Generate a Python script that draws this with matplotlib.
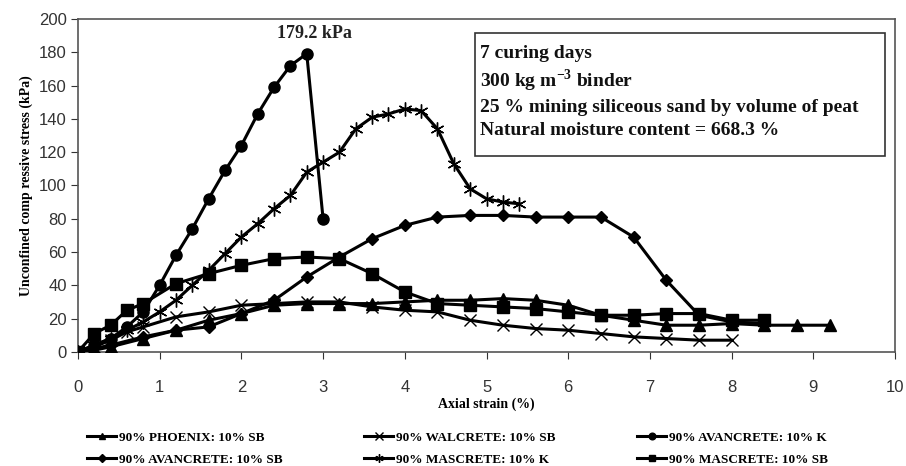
import matplotlib
matplotlib.use("Agg")
import matplotlib.pyplot as plt
from matplotlib.patches import Rectangle

# ---- data ----
phoenix_x = [0, 0.2, 0.4, 0.8, 1.2, 1.6, 2.0, 2.4, 2.8, 3.2, 3.6, 4.0, 4.4, 4.8, 5.2, 5.6, 6.0, 6.4, 6.8, 7.2, 7.6, 8.0, 8.4, 8.8, 9.2]
phoenix_y = [0, 1, 3, 8, 13, 19, 23, 28, 29, 29, 29, 30, 31, 31, 32, 31, 28, 22, 19, 16, 16, 17, 16, 16, 16]

walcrete_x = [0, 0.2, 0.4, 0.6, 0.8, 1.2, 1.6, 2.0, 2.4, 2.8, 3.2, 3.6, 4.0, 4.4, 4.8, 5.2, 5.6, 6.0, 6.4, 6.8, 7.2, 7.6, 8.0]
walcrete_y = [0, 3, 7, 12, 15, 21, 24, 28, 29, 30, 30, 27, 25, 24, 19, 16, 14, 13, 11, 9, 8, 7, 7]

avan_k_x = [0, 0.2, 0.4, 0.6, 0.8, 1.0, 1.2, 1.4, 1.6, 1.8, 2.0, 2.2, 2.4, 2.6, 2.8, 3.0]
avan_k_y = [0, 4, 8, 15, 24, 40, 58, 74, 92, 109, 124, 143, 159, 172, 179.2, 80]

avan_sb_x = [0, 0.4, 0.8, 1.2, 1.6, 2.0, 2.4, 2.8, 3.2, 3.6, 4.0, 4.4, 4.8, 5.2, 5.6, 6.0, 6.4, 6.8, 7.2, 7.6, 8.0, 8.4]
avan_sb_y = [0, 4, 9, 13, 15, 23, 31, 45, 57, 68, 76, 81, 82, 82, 81, 81, 81, 69, 43, 22, 18, 17]

mas_k_x = [0, 0.2, 0.4, 0.6, 0.8, 1.0, 1.2, 1.4, 1.6, 1.8, 2.0, 2.2, 2.4, 2.6, 2.8, 3.0, 3.2, 3.4, 3.6, 3.8, 4.0, 4.2, 4.4, 4.6, 4.8, 5.0, 5.2, 5.4]
mas_k_y = [0, 4, 8, 13, 18, 24, 31, 40, 49, 59, 69, 77, 86, 94, 108, 114, 120, 134, 141, 143, 146, 145, 134, 113, 98, 92, 90, 89]

mas_sb_x = [0, 0.2, 0.4, 0.6, 0.8, 1.2, 1.6, 2.0, 2.4, 2.8, 3.2, 3.6, 4.0, 4.4, 4.8, 5.2, 5.6, 6.0, 6.4, 6.8, 7.2, 7.6, 8.0, 8.4]
mas_sb_y = [0, 11, 16, 25, 29, 41, 47, 52, 56, 57, 56, 47, 36, 29, 28, 27, 26, 24, 22, 22, 23, 23, 19, 19]

labels = ["90% PHOENIX: 10% SB", "90% WALCRETE: 10% SB", "90% AVANCRETE: 10% K",
          "90% AVANCRETE: 10% SB", "90% MASCRETE: 10% K", "90% MASCRETE: 10% SB"]

x_ticks = list(range(0, 11))
y_ticks = list(range(0, 201, 20))

info_lines = ["7 curing days",
              "300 kg m$^{\\mathregular{-3}}$ binder",
              "25 % mining siliceous sand by volume of peat",
              "Natural moisture content = 668.3 %"]
peak_label = "179.2 kPa"

# ---- plot ----
fig = plt.figure(figsize=(9.06, 4.66), dpi=100)
ax = fig.add_axes([0.086, 0.245, 0.902, 0.714])

serif = "Liberation Serif"
sans = "Liberation Sans"
lw = 2.2
h = {}
h[0], = ax.plot(phoenix_x, phoenix_y, color="black", lw=lw, marker="^", ms=8, zorder=3)
h[1], = ax.plot(walcrete_x, walcrete_y, color="black", lw=lw, marker="x", ms=9, mew=1.0, zorder=3)
h[2], = ax.plot(avan_k_x, avan_k_y, color="black", lw=lw, marker="o", ms=8, zorder=3)
h[3], = ax.plot(avan_sb_x, avan_sb_y, color="black", lw=lw, marker="D", ms=6.5, zorder=3)
h[4], = ax.plot(mas_k_x, mas_k_y, color="black", lw=lw, marker=(6, 2, 0), ms=10, mew=1.0, zorder=3)
h[5], = ax.plot(mas_sb_x, mas_sb_y, color="black", lw=lw, marker="s", ms=8, zorder=3)

ax.set_xlim(0, 10)
ax.set_ylim(0, 200)
ax.set_xticks(x_ticks)
ax.set_yticks(y_ticks)
ax.tick_params(axis="x", direction="out", length=5, pad=15, labelsize=12, colors="#333333")
ax.tick_params(axis="y", direction="out", length=5, pad=3, labelsize=12, colors="#333333")
for lab in ax.get_xticklabels() + ax.get_yticklabels():
    lab.set_fontfamily(sans)
for s in ax.spines.values():
    s.set_color("#555555")
    s.set_linewidth(1.2)

ax.set_xlabel("Axial strain (%)", fontfamily=serif, fontweight="bold", fontsize=10, labelpad=2)
ax.set_ylabel("Unconfined comp ressive stress (kPa)", fontfamily=serif, fontweight="bold",
              fontsize=10, labelpad=4)

ax.text(2.9, 191.5, peak_label, fontfamily=serif, fontweight="bold", fontsize=13,
        ha="center", va="center", color="#222222")

# info box
ax.add_patch(Rectangle((0.486, 0.588), 0.502, 0.370, transform=ax.transAxes,
                       facecolor="white", edgecolor="#333333", lw=1.2, zorder=4))
line_y = [0.898, 0.814, 0.735, 0.666]
for txt, yy in zip(info_lines, line_y):
    ax.text(0.4925, yy, txt, transform=ax.transAxes, fontfamily=serif, fontweight="bold",
            fontsize=14, ha="left", va="center", color="#111111", zorder=5)

order = [0, 3, 1, 4, 2, 5]
leg = fig.legend([h[i] for i in order], [labels[i] for i in order], ncol=3,
                 loc="lower left", bbox_to_anchor=(0.083, -0.025), frameon=False,
                 prop={"family": serif, "weight": "bold", "size": 9.5},
                 columnspacing=6.2, handlelength=2.2, handletextpad=0.2,
                 labelspacing=0.75, markerscale=0.6)

fig.savefig("out.png", dpi=100)
